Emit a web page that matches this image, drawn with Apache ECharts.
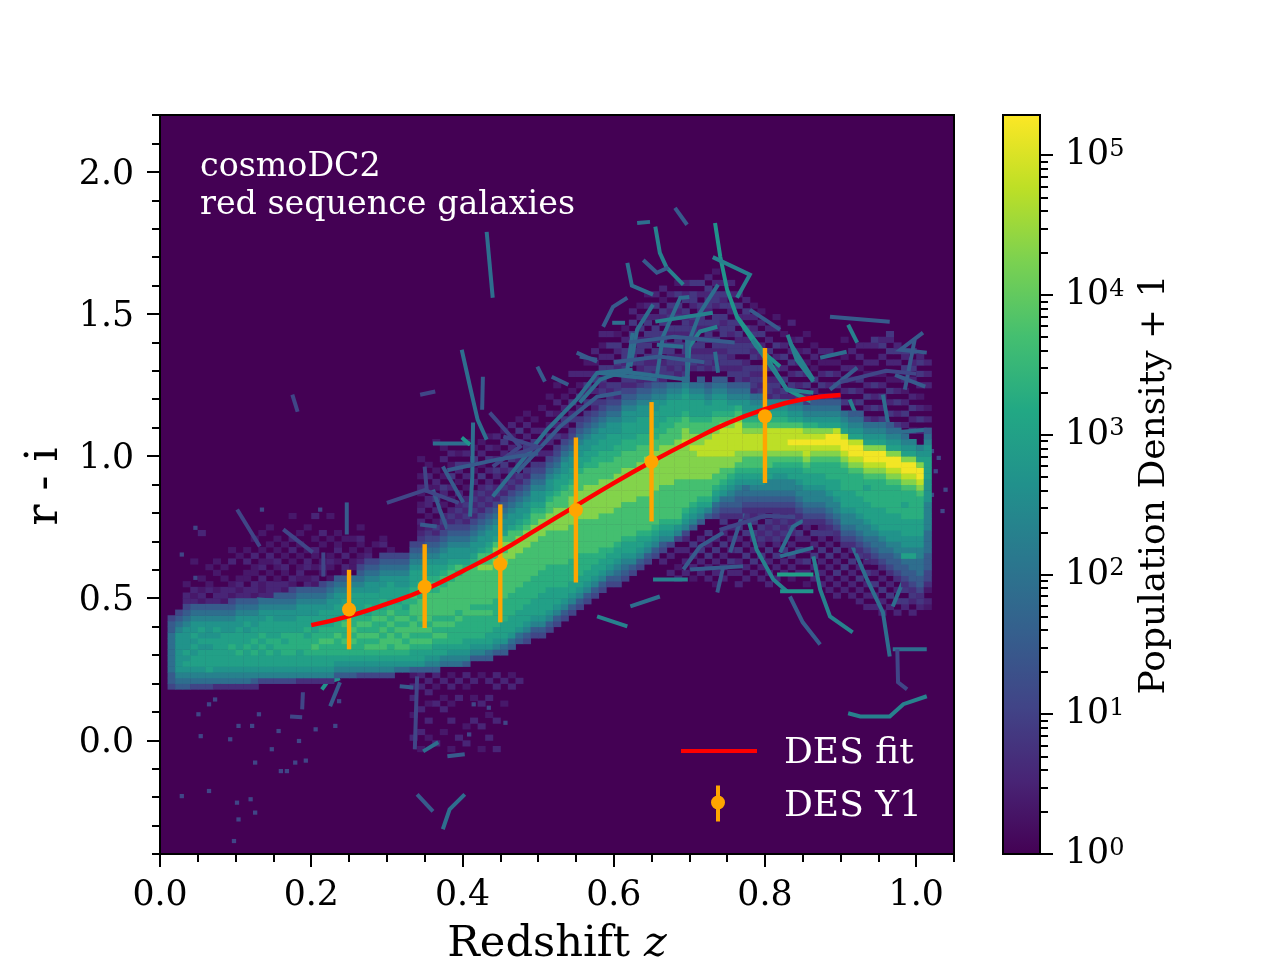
<!DOCTYPE html>
<html>
<head>
<meta charset="utf-8">
<title>cosmoDC2 red sequence</title>
<script src="https://cdn.jsdelivr.net/npm/echarts@6/dist/echarts.min.js"></script>
<style>
    html, body { margin: 0; padding: 0; background: #ffffff; }
    #chart { width: 1280px; height: 960px; }
</style>
</head>
<body>
<div id="chart"></div>
<script>
const FONT = "DejaVu Serif";

// DES measurements
const desZ = [0.25, 0.35, 0.45, 0.55, 0.65, 0.8];
const desColor = [0.46, 0.54, 0.62, 0.81, 0.98, 1.14];
const desLow = [0.32, 0.395, 0.415, 0.555, 0.77, 0.905];
const desHigh = [0.60, 0.69, 0.83, 1.065, 1.19, 1.38];

const fitZ = [0.2, 0.25, 0.3, 0.35, 0.4, 0.45, 0.5, 0.55, 0.6, 0.65, 0.7, 0.75, 0.8, 0.85, 0.9];
const fitColor = [0.405, 0.437, 0.48, 0.53, 0.595, 0.665, 0.745, 0.825, 0.905, 0.98, 1.05, 1.115, 1.165, 1.2, 1.215];

const xMajor = [0, 0.2, 0.4, 0.6, 0.8, 1.0];
const xMinor = [0.05, 0.1, 0.15, 0.25, 0.3, 0.35, 0.45, 0.5, 0.55, 0.65, 0.7, 0.75, 0.85, 0.9, 0.95, 1.05];
const yMajor = [0, 0.5, 1.0, 1.5, 2.0];
const yMinor = [-0.4, -0.3, -0.2, -0.1, 0.1, 0.2, 0.3, 0.4, 0.6, 0.7, 0.8, 0.9, 1.1, 1.2, 1.3, 1.4, 1.6, 1.7, 1.8, 1.9, 2.1, 2.2];

const cbarMax = 5.288;
const cbarMajor = [0, 1, 2, 3, 4, 5];
const cbarMinor = [
    0.301, 0.477, 0.602, 0.699, 0.778, 0.845, 0.903, 0.954,
    1.301, 1.477, 1.602, 1.699, 1.778, 1.845, 1.903, 1.954,
    2.301, 2.477, 2.602, 2.699, 2.778, 2.845, 2.903, 2.954,
    3.301, 3.477, 3.602, 3.699, 3.778, 3.845, 3.903, 3.954,
    4.301, 4.477, 4.602, 4.699, 4.778, 4.845, 4.903, 4.954
];

const viridis = ["#440154", "#482475", "#414487", "#355f8d", "#2a788e", "#21918c", "#22a884", "#44bf70", "#7ad151", "#bddf26", "#fde725"];

// log10(density + 1) for each level char 0..d used in the strings below
const levelDex = [0, 0.35, 0.7, 1.1, 1.5, 1.9, 2.3, 2.7, 3.0, 3.3, 3.7, 4.3, 4.75, 5.2];
// the mottled areas are fainter
const meshDex = [0, 0.2, 0.35, 0.55, 0.85];

// main band, one string per 0.01 of z starting at z = 0.01
// each char is a density level, bottom to top, each 0.02 in colour
// bandStart is the row of the first char, in units of 0.02
const bandStart = [
    9, 9, 9, 9, 9, 9, 9, 9, 9, 9,
    9, 9, 10, 10, 10, 10, 10, 10, 10, 10,
    10, 10, 11, 11, 11, 11, 11, 11, 11, 11,
    12, 12, 12, 12, 12, 12, 13, 13, 13, 13,
    14, 14, 14, 15, 15, 16, 17, 17, 18, 18,
    19, 20, 21, 22, 23, 24, 25, 26, 27, 27,
    28, 29, 30, 31, 32, 33, 34, 35, 36, 37,
    38, 39, 39, 39, 39, 39, 40, 40, 40, 40,
    40, 40, 40, 39, 38, 38, 38, 37, 36, 34,
    34, 33, 32, 31, 30, 29, 28, 27, 26, 25,
    26
];
const bandColumns = [
    "3445555555443",
    "45677777776543",
    "456787877776543",
    "356788787877654",
    "356788878787654",
    "356888878777654",
    "256788888787654",
    "256788888877654",
    "2567888988776543",
    "2567889888877654",
    "2567888988787654",
    "2467889898877654",
    "367888989887765",
    "367889898888765",
    "3678889988877654",
    "3678899898877654",
    "36788999988776543",
    "26788899988877654",
    "26788999898877654",
    "267889a9988877654",
    "2678899a9988876543",
    "2678899a9988877654",
    "4678999a9988877654",
    "467899a99a98887654",
    "467899a9a998888765",
    "3678999a9a9988876543",
    "36789a9a9a98988776543",
    "36789a9a99a9888776543",
    "36789aa9a9a98988776543",
    "367899aa9a9a9888876543",
    "5789aa9a9a99888776543",
    "5789a9aa9a98988776543",
    "47889a9aa9aa9a988876543",
    "47889a9a9aaaa9a98876543",
    "46789a9a9aaaaa9a98876543",
    "467889a9a9aaaa9a98876543",
    "56889a9a9aaaaa9a98776543",
    "5678999a9aaaaaa9a98776543",
    "56789999a9aaaaaa9a8776543",
    "467889999aaaaaaaa98776543",
    "46789999a9aaaaaaa98776543",
    "46789999a9aaaaaabaa8776543",
    "45788999a9aaaaaabaa98776543",
    "4678899999aaaaaababa8776543",
    "4578889999aaaaaabbaba8776543",
    "4578889999aaaaaabbbaa8776543",
    "4578889999aaaaaabbba98776543",
    "34678889999aaaaaabbba98776543",
    "34678889999aaaaaabbbaa98776543",
    "346788889999aaaaaabbba98776543",
    "346788889999aaaaaabbbaa98776543",
    "34678889999aaaaaabbbbaa98876543",
    "3467889999aaaaaabbbbaaa988776543",
    "3467889999aaaaaabbbbbaa988776543",
    "3467889999aaaaaabbbbbaaa988776543",
    "346788999aaaaaabbbbbbaaa988776543",
    "34678899aaaaaabbbbbbaaa9988776543",
    "34678899aaaaaabbbbbbaaa9988776543",
    "3467889aaaaaabbbbbbaaa99888776543",
    "34567889aaaaaabbbbbbaaa9988776543",
    "34567889aaaaaabbbbbbaaa99888776543",
    "3467889aaaaaabbbbbbaaa99888776543",
    "3467889aaaaaabbbbbbaaa9988877654",
    "346789aaaaaabbbbbbbaa99888776543",
    "346789aaaaaabbbbbbbaa9988877654",
    "346789aaaaaabbbbbbbaa998887654",
    "36789aaaaaabbbbbbbaaa99888765",
    "3679aaaaaaabbbbbbbaaa9888765",
    "36789aaaaabbbbbbcbbaa9888765",
    "46789aaaabbbbbcbbaa9888765",
    "46789aaabbbbccbbaa98887654",
    "4689aaabbbbcccbaa9887654",
    "345789aabbbccccbaa9887654",
    "2345789aabbcccccba9887654",
    "23456789abbcccccba987654",
    "234456789abbcccccba97654",
    "23455789aabcccba9877654",
    "23456789aabcccba98765",
    "23456789aabcccba98765",
    "23456688aabcccca9876",
    "234566789abcccca9876",
    "234566789abcccca9876",
    "234566889abcdcca8765",
    "2345667889abcdcca8765",
    "2345667889abccdcb9765",
    "23456678899abcdcb97654",
    "23456678899abcdcb87654",
    "234566788999abcddb87654",
    "2345667888999abcddc87654",
    "23456678889999abcddc8765",
    "2345667888999abcddc87654",
    "23456678889999abcddc87654",
    "23456678889989abcddb8765",
    "234556788899999abcddb8765",
    "2345567888899999abcddb8765",
    "2344567788899999abcddb87654",
    "23445667788899999abcddb8765",
    "23445867788899899abcddb8765",
    "234455867788899999abcddb876",
    "234455566778889999abcddb876",
    "12334445555666667777888877654"
];

// mottled low density bins above the band, left part, z = 0.03 up, starting at row 24
const meshLeftFirst = 3;
const meshLeftStart = 24;
const meshLeft = [
    "330200000000000000",
    "323000020000000000",
    "232020000000300000",
    "303200200000000000",
    "332002020000000000",
    "233020200000000000",
    "323200030200000000",
    "332320002000000000",
    "233022030200000000",
    "323302203002000000",
    "332230320200200000",
    "233302023020020000",
    "323320230202000000",
    "332302302020000000",
    "233230020303000200",
    "323023202020200000",
    "302320330200020000",
    "330230202302000300",
    "323302320020300000",
    "233020232002000200",
    "323230020320200000",
    "332302303002000000",
    "233230220202000000",
    "323302032023020000",
    "332023203200000000",
    "433230320020000000",
    "343302203032000000",
    "434230320200000000",
    "343320032000000000",
    "434302300000000000",
    "343230200320000000"
];

// same, middle part, z = 0.34 to 0.49, starting at row 34
const meshMidFirst = 34;
const meshMidStart = 34;
const meshMid = [
    "343230320230200200000000",
    "434302033020302000000000",
    "343420304023020000200000",
    "434343020340200302000000",
    "343434302030402030000000",
    "434343430302034020000000",
    "343434343020304030200000",
    "434343434303020402000000",
    "343434343430402030200000",
    "434343434343030403020000",
    "343434343430340302030000",
    "434343434343034030402000",
    "343434343434340403020300",
    "434343434343403340304020",
    "343434343434340334030302",
    "434343434343434043403020"
];

// same, right part, z = 0.50 up, each with its own first row
const meshRightFirst = 50;
const meshRightStart = [
    47, 49, 50, 52, 53, 54, 56, 57, 58, 60,
    60, 61, 62, 62, 63, 63, 63, 64, 64, 64,
    65, 65, 65, 65, 65, 64, 62, 62, 61, 61,
    60, 60, 60, 59, 59, 59, 58, 58, 58, 58,
    57, 57, 57, 56, 56, 56, 55, 55, 55, 54,
    54, 54
];
const meshRight = [
    "34030203000200",
    "4303402030020",
    "3404030203002",
    "430340302000",
    "3404304020030",
    "434030402030",
    "3404034030200",
    "43403043020300",
    "34043404030203",
    "434034030403",
    "3440434034020",
    "43404344030200",
    "344043403404030",
    "434340443040302",
    "3443404340430302",
    "43434403440304030",
    "344304434043402030",
    "4343440340434030",
    "34430443404340402",
    "434344034434043030",
    "3443404434034404",
    "43434403443403040",
    "344304434034434030",
    "434344034403440302",
    "3443404434043403",
    "43434403440340303",
    "344340443404304030",
    "43443044304034030",
    "3443404340430302",
    "434340343040302",
    "3443043040303",
    "434304030400302",
    "34040304030200",
    "430403040302003",
    "34030403020300",
    "4304030203002",
    "34030402030200",
    "403040302030",
    "3040304020300",
    "40304030200",
    "30403040302002",
    "403040203003",
    "3040304020303",
    "40304030203003",
    "304030402030034",
    "403040302003043",
    "30403040200304034",
    "403040302003043",
    "30403020304034",
    "403040300304304",
    "30403020304043",
    "2030200030303"
];

// below the band on the right, z = 0.66 up, starting at row 22
const meshLowFirst = 66;
const meshLowStart = 22;
const meshLow = [
    "000000000300000",
    "000000030030300",
    "000000302003000",
    "000000030303030",
    "000000203030400",
    "000000030304030",
    "000000303040304",
    "000002030304030",
    "000000303030403040",
    "000000030403030304",
    "000003030304030403",
    "000000303040304034",
    "000000030403034043",
    "000000303040343404",
    "000003030304034340",
    "000000303040343434030",
    "000000030304034343403",
    "000000203040303434340",
    "000000030304034043434",
    "000002030403030343434",
    "000000303040304034343",
    "000003030304034304343",
    "000030303040304030434",
    "000303040304030404343",
    "000030304030403043434",
    "000303030403040343434",
    "003030403040304034343",
    "030303040304034343434",
    "030304030403434343434",
    "303040304034343434343",
    "030403040343434343434",
    "304030403434343434344",
    "034040304343434344344",
    "303403043434343443434",
    "034034034343434344343",
    "023023023232323233232"
];

// below the band in the middle, z = 0.33 to 0.47, starting at row -3
const meshBelowFirst = 33;
const meshBelowStart = -3;
const meshBelow = [
    "000300020030302",
    "020030003000303",
    "000200300203030",
    "003000000300203",
    "000020003020030",
    "020000300200302",
    "000300000030030",
    "003002000000203",
    "000000300020030",
    "020003000300002",
    "000300020030030",
    "030000300000303",
    "000000000200030",
    "000000000000302",
    "000000000000030"
];

// thin streaks, [level, points...], points are [z, colour]
const filaments = [
    [6, [0.655, 1.807], [0.661, 1.715], [0.670, 1.663], [0.692, 1.603]],
    [4, [0.639, 1.690], [0.657, 1.645], [0.672, 1.663]],
    [5, [0.618, 1.680], [0.624, 1.600], [0.652, 1.568]],
    [5, [0.631, 1.820], [0.648, 1.824]],
    [4, [0.681, 1.873], [0.697, 1.814]],
    [7, [0.734, 1.820], [0.741, 1.700], [0.750, 1.585], [0.763, 1.490], [0.789, 1.385], [0.820, 1.315]],
    [6, [0.731, 1.700], [0.780, 1.638], [0.763, 1.557]],
    [7, [0.763, 1.490], [0.793, 1.385], [0.829, 1.234], [0.864, 1.188]],
    [6, [0.830, 1.427], [0.842, 1.339], [0.864, 1.262]],
    [4, [0.780, 1.515], [0.820, 1.445]],
    [6, [0.697, 1.258], [0.700, 1.385], [0.714, 1.438], [0.737, 1.455]],
    [5, [0.657, 1.280], [0.665, 1.420], [0.688, 1.557], [0.700, 1.560]],
    [5, [0.622, 1.315], [0.631, 1.445], [0.652, 1.533]],
    [5, [0.697, 1.385], [0.714, 1.504], [0.738, 1.603]],
    [6, [0.655, 1.473], [0.731, 1.504]],
    [5, [0.657, 1.392], [0.692, 1.385]],
    [5, [0.734, 1.367], [0.738, 1.293]],
    [4, [0.555, 1.350], [0.578, 1.339]],
    [4, [0.586, 1.455], [0.599, 1.525], [0.618, 1.557]],
    [5, [0.598, 1.469], [0.615, 1.469]],
    [5, [0.555, 1.188], [0.582, 1.269], [0.612, 1.297], [0.697, 1.269]],
    [4, [0.886, 1.490], [0.965, 1.473]],
    [6, [0.910, 1.462], [0.922, 1.399]],
    [5, [0.873, 1.346], [0.908, 1.367]],
    [4, [0.886, 1.234], [0.922, 1.311]],
    [4, [1.009, 1.434], [0.979, 1.374], [1.014, 1.364]],
    [4, [0.972, 1.286], [1.012, 1.244]],
    [4, [0.998, 1.410], [0.985, 1.234]],
    [5, [0.432, 1.789], [0.440, 1.557]],
    [3, [0.175, 1.216], [0.182, 1.156]],
    [5, [0.399, 1.374], [0.410, 1.244], [0.420, 1.128], [0.432, 1.058]],
    [5, [0.414, 1.118], [0.413, 0.928], [0.410, 0.787]],
    [4, [0.427, 1.279], [0.426, 1.163]],
    [5, [0.361, 1.044], [0.410, 1.044]],
    [7, [0.399, 1.065], [0.410, 1.040]],
    [3, [0.344, 1.216], [0.364, 1.227]],
    [5, [0.440, 0.858], [0.512, 1.093], [0.551, 1.199], [0.578, 1.293], [0.625, 1.304]],
    [4, [0.472, 0.942], [0.529, 1.104], [0.578, 1.209], [0.618, 1.227]],
    [4, [0.551, 1.364], [0.578, 1.332]],
    [4, [0.499, 1.315], [0.509, 1.262]],
    [4, [0.518, 1.279], [0.540, 1.251]],
    [4, [0.374, 0.963], [0.401, 0.837]],
    [3, [0.350, 0.963], [0.353, 0.872]],
    [4, [0.361, 0.882], [0.370, 0.812], [0.380, 0.742]],
    [4, [0.344, 0.759], [0.366, 0.752]],
    [3, [0.436, 1.153], [0.476, 1.033], [0.440, 0.963]],
    [3, [0.454, 1.069], [0.499, 1.033], [0.463, 0.998]],
    [6, [0.652, 0.566], [0.698, 0.566]],
    [5, [0.622, 0.471], [0.661, 0.506]],
    [6, [0.578, 0.436], [0.618, 0.401]],
    [5, [0.697, 1.420], [0.697, 1.269]],
    [5, [0.625, 1.434], [0.618, 1.304]],
    [5, [0.578, 1.293], [0.657, 1.269]],
    [6, [0.778, 0.777], [0.789, 0.671], [0.811, 0.566], [0.829, 0.524]],
    [8, [0.816, 0.583], [0.864, 0.583]],
    [7, [0.820, 0.524], [0.864, 0.524]],
    [6, [0.864, 0.647], [0.873, 0.531], [0.886, 0.436], [0.916, 0.380]],
    [5, [0.820, 0.661], [0.837, 0.752], [0.864, 0.794]],
    [5, [0.820, 0.647], [0.864, 0.678]],
    [4, [0.833, 0.506], [0.850, 0.415], [0.873, 0.337]],
    [5, [0.916, 0.682], [0.935, 0.566], [0.956, 0.450], [0.965, 0.295]],
    [5, [0.996, 0.647], [0.969, 0.471]],
    [5, [0.926, 0.777], [0.935, 0.636]],
    [5, [0.969, 0.320], [1.014, 0.320]],
    [4, [0.701, 0.601], [0.771, 0.612]],
    [4, [0.745, 0.612], [0.737, 0.520]],
    [4, [0.692, 0.601], [0.714, 0.682], [0.745, 0.731]],
    [4, [0.754, 0.661], [0.771, 0.801]],
    [6, [0.833, 1.399], [0.864, 1.269]],
    [6, [0.912, 1.199], [0.930, 1.083]],
    [5, [0.956, 1.216], [0.965, 1.083]],
    [5, [0.969, 1.083], [1.014, 1.093]],
    [4, [0.877, 1.188], [0.912, 1.118]],
    [6, [0.783, 1.410], [0.829, 1.234], [0.864, 1.223]],
    [6, [0.910, 0.095], [0.926, 0.084], [0.965, 0.084], [0.983, 0.127], [1.014, 0.155]],
    [3, [0.975, 0.320], [0.976, 0.204], [0.988, 0.179]],
    [7, [0.214, 0.179], [0.221, 0.204], [0.238, 0.218]],
    [4, [0.238, 0.204], [0.225, 0.120]],
    [5, [0.374, -0.313], [0.383, -0.243], [0.403, -0.190]],
    [4, [0.340, -0.190], [0.361, -0.250]],
    [5, [0.348, -0.039], [0.368, -0.007]],
    [4, [0.380, -0.056], [0.403, -0.049]],
    [4, [0.317, 0.190], [0.335, 0.186]],
    [3, [0.340, 0.225], [0.337, -0.032]],
    [3, [0.189, 0.169], [0.188, 0.109]],
    [3, [0.172, 0.084], [0.188, 0.081]],
    [4, [0.247, 0.837], [0.247, 0.724]],
    [5, [0.128, 0.496], [0.159, 0.489]],
    [3, [0.102, 0.812], [0.132, 0.682]],
    [3, [0.163, 0.742], [0.202, 0.661]],
    [3, [0.216, 0.661], [0.216, 0.576]],
    [3, [0.300, 0.835], [0.350, 0.880], [0.395, 0.835]],
    [4, [0.380, 0.950], [0.450, 0.990], [0.500, 1.010]],
    [4, [0.600, 1.330], [0.660, 1.350], [0.720, 1.330]],
    [4, [0.620, 1.400], [0.680, 1.420], [0.760, 1.400]],
    [3, [0.900, 1.260], [0.960, 1.300], [1.000, 1.290]],
    [3, [0.740, 0.740], [0.800, 0.790], [0.880, 0.780]]
];

// single faint bins
const speckZ = [
    0.062, 0.07, 0.048, 0.128, 0.101, 0.119, 0.154, 0.051, 0.09, 0.145, 0.123, 0.157, 0.165,
    0.062, 0.026, 0.099, 0.117, 0.101, 0.123, 0.095, 0.432, 0.454, 0.412, 0.406, 0.234, 0.229,
    0.181, 0.203, 0.176, 0.19, 0.044, 0.132, 0.209, 0.026, 0.044,
    1.018, 1.027, 1.036, 1.023, 1.032, 1.018
];
const speckColor = [
    0.121, 0.138, 0.086, 0.086, 0.045, 0.045, 0.027, 0.009, -0.002, -0.037, -0.084, -0.114, -0.114,
    -0.184, -0.202, -0.225, -0.213, -0.284, -0.26, -0.36, 0.109, 0.056, 0.121, 0.015, 0.132, 0.045,
    -0.008, 0.033, -0.084, -0.077, 0.742, 0.806, 0.806, 0.648, 0.566,
    1.012, 0.988, 0.876, 0.941, 0.801, 0.858
];

const BAND_DZ = 0.01;
const BAND_DC = 0.02;
const SPECK_DZ = 0.005;
const SPECK_DC = 0.013;

function pushCells(cells, firstIndex, starts, columns, dex) {
    for (let i = 0; i < columns.length; i++) {
        const z = (firstIndex + i) * BAND_DZ;
        const start = Array.isArray(starts) ? starts[i] : starts;
        for (let j = 0; j < columns[i].length; j++) {
            const level = parseInt(columns[i][j], 16);
            if (level > 0) {
                cells.push([z, (start + j) * BAND_DC, dex[level]]);
            }
        }
    }
}

function buildBandCells() {
    const cells = [];
    pushCells(cells, 1, bandStart, bandColumns, levelDex);
    return cells;
}

function buildMeshCells() {
    const cells = [];
    pushCells(cells, meshLeftFirst, meshLeftStart, meshLeft, meshDex);
    pushCells(cells, meshMidFirst, meshMidStart, meshMid, meshDex);
    pushCells(cells, meshRightFirst, meshRightStart, meshRight, meshDex);
    pushCells(cells, meshLowFirst, meshLowStart, meshLow, meshDex);
    pushCells(cells, meshBelowFirst, meshBelowStart, meshBelow, meshDex);
    return cells;
}

function renderCell(dz, dc) {
    return function (params, api) {
        const a = api.coord([api.value(0), api.value(1)]);
        const b = api.coord([api.value(0) + dz, api.value(1) + dc]);
        return {
            type: "rect",
            shape: { x: a[0], y: b[1], width: b[0] - a[0] + 0.5, height: a[1] - b[1] + 0.5 },
            style: { fill: api.visual("color") }
        };
    };
}

function renderStreak(list, width) {
    return function (params, api) {
        const points = list[params.dataIndex].slice(1).map(p => api.coord(p));
        return {
            type: "polyline",
            shape: { points: points },
            style: { fill: null, stroke: api.visual("color"), lineWidth: width }
        };
    };
}

function streakData(list) {
    return list.map(f => [f[1][0], f[1][1], levelDex[f[0]]]);
}

const speckData = speckZ.map((z, i) => [z, speckColor[i], levelDex[3]]);

function tickAxis(common, values, length, extra) {
    return Object.assign({
        type: "value",
        splitLine: { show: false },
        axisLine: { show: false, onZero: false },
        axisLabel: { show: false },
        axisTick: {
            show: true,
            length: length,
            customValues: values,
            lineStyle: { color: "#000000", width: 2 }
        }
    }, common, extra);
}

const chart = echarts.init(document.getElementById("chart"), null, { renderer: "canvas" });

chart.setOption({
    animation: false,
    backgroundColor: "#ffffff",
    title: {
        text: "cosmoDC2\nred sequence galaxies",
        left: 200,
        top: 148,
        padding: 0,
        textStyle: { color: "#ffffff", fontFamily: FONT, fontSize: 33.3, fontWeight: "normal", lineHeight: 38 }
    },
    legend: {
        orient: "vertical",
        left: 681,
        top: 732,
        padding: 0,
        itemWidth: 98,
        itemHeight: 38,
        itemGap: 14,
        selectedMode: false,
        formatter: name => "{t|" + name + "}",
        textStyle: {
            color: "#ffffff",
            rich: {
                t: { color: "#ffffff", fontFamily: FONT, fontSize: 36, padding: [5, 0, 0, 0] }
            }
        },
        data: [
            {
                name: "DES fit",
                icon: "path://M0 0L0 0M0 17h76v4H0zM98 38L98 38",
                itemStyle: { color: "#ff0000" }
            },
            {
                name: "DES Y1",
                icon: "path://M0 0L0 0M35 0h4v36h-4zM30 17a7 7 0 1 1 14 0a7 7 0 1 1 -14 0zM98 38L98 38",
                itemStyle: { color: "#ffa500" }
            }
        ]
    },
    grid: [
        { left: 160, top: 115, width: 794, height: 739, outerBoundsMode: "none", show: true, backgroundColor: "#440154", borderColor: "#000000", borderWidth: 2 },
        { left: 1003, top: 115, width: 37, height: 739, outerBoundsMode: "none" }
    ],
    xAxis: [
        tickAxis({ gridIndex: 0, min: 0, max: 1.05, position: "bottom" }, xMajor, 13, {
            axisLabel: {
                show: true,
                customValues: xMajor,
                margin: 24,
                formatter: v => v.toFixed(1),
                color: "#000000",
                fontFamily: FONT,
                fontSize: 34.7
            },
            name: "Redshift {i|z}",
            nameLocation: "middle",
            nameGap: 69,
            nameTextStyle: {
                color: "#000000",
                fontFamily: FONT,
                fontSize: 43.2,
                rich: {
                    i: { fontFamily: FONT, fontSize: 43.2, fontStyle: "italic" }
                }
            }
        }),
        tickAxis({ gridIndex: 0, min: 0, max: 1.05, position: "bottom" }, xMinor, 8),
        { type: "value", gridIndex: 1, min: 0, max: 1, show: false }
    ],
    yAxis: [
        tickAxis({ gridIndex: 0, min: -0.4, max: 2.2, position: "left" }, yMajor, 13, {
            axisLabel: {
                show: true,
                customValues: yMajor,
                margin: 26,
                formatter: v => "{t|" + v.toFixed(1) + "}",
                rich: {
                    t: { color: "#000000", fontFamily: FONT, fontSize: 34.7, padding: [6, 0, 0, 0] }
                }
            },
            name: "r - i",
            nameLocation: "middle",
            nameRotate: 90,
            nameGap: 92,
            nameTextStyle: { color: "#000000", fontFamily: FONT, fontSize: 44, padding: [0, 4, 0, 0] }
        }),
        tickAxis({ gridIndex: 0, min: -0.4, max: 2.2, position: "left" }, yMinor, 8),
        tickAxis({ gridIndex: 1, min: 0, max: cbarMax, position: "right" }, cbarMajor, 13, {
            axisLabel: {
                show: true,
                customValues: cbarMajor,
                margin: 25,
                formatter: v => "{b|10}{s|" + v + "}",
                rich: {
                    b: { fontFamily: FONT, fontSize: 34.7, color: "#000000" },
                    s: { fontFamily: FONT, fontSize: 24, color: "#000000", verticalAlign: "top" }
                }
            },
            name: "Population Density + 1",
            nameLocation: "middle",
            nameRotate: 90,
            nameGap: 97,
            nameTextStyle: { color: "#000000", fontFamily: FONT, fontSize: 36 }
        }),
        tickAxis({ gridIndex: 1, min: 0, max: cbarMax, position: "right" }, cbarMinor, 8)
    ],
    visualMap: {
        show: false,
        type: "continuous",
        min: 0,
        max: cbarMax,
        dimension: 2,
        seriesIndex: [0, 1, 2, 3],
        inRange: { color: viridis }
    },
    series: [
        {
            type: "custom",
            silent: true,
            renderItem: renderCell(BAND_DZ, BAND_DC),
            data: buildMeshCells(),
            z: 2
        },
        {
            type: "custom",
            silent: true,
            renderItem: renderStreak(filaments, 4),
            data: streakData(filaments),
            z: 2
        },
        {
            type: "custom",
            silent: true,
            renderItem: renderCell(SPECK_DZ, SPECK_DC),
            data: speckData,
            z: 2
        },
        {
            type: "custom",
            silent: true,
            renderItem: renderCell(BAND_DZ, BAND_DC),
            data: buildBandCells(),
            z: 3
        },
        {
            // colourbar
            type: "custom",
            silent: true,
            xAxisIndex: 2,
            yAxisIndex: 2,
            renderItem: function (params, api) {
                const a = api.coord([0, 0]);
                const b = api.coord([1, cbarMax]);
                return {
                    type: "rect",
                    shape: { x: a[0], y: b[1], width: b[0] - a[0], height: a[1] - b[1] },
                    style: {
                        fill: new echarts.graphic.LinearGradient(0, 1, 0, 0,
                            viridis.map((c, i) => ({ offset: i / (viridis.length - 1), color: c }))),
                        stroke: "#000000",
                        lineWidth: 2
                    }
                };
            },
            data: [[0, 0]],
            z: 3
        },
        {
            name: "DES Y1",
            type: "custom",
            silent: true,
            renderItem: function (params, api) {
                const top = api.coord([api.value(0), api.value(2)]);
                const bottom = api.coord([api.value(0), api.value(1)]);
                return {
                    type: "line",
                    shape: { x1: top[0], y1: top[1], x2: bottom[0], y2: bottom[1] },
                    style: { stroke: "#ffa500", lineWidth: 4.4 }
                };
            },
            data: desZ.map((z, i) => [z, desLow[i], desHigh[i]]),
            itemStyle: { color: "#ffa500" },
            z: 4
        },
        {
            name: "DES fit",
            type: "line",
            smooth: true,
            showSymbol: false,
            silent: true,
            data: fitZ.map((z, i) => [z, fitColor[i]]),
            lineStyle: { color: "#ff0000", width: 4.4 },
            itemStyle: { color: "#ff0000" },
            z: 5
        },
        {
            name: "DES Y1",
            type: "scatter",
            silent: true,
            symbolSize: 14,
            data: desZ.map((z, i) => [z, desColor[i]]),
            itemStyle: { color: "#ffa500", opacity: 1 },
            z: 6
        }
    ]
});
</script>
</body>
</html>
